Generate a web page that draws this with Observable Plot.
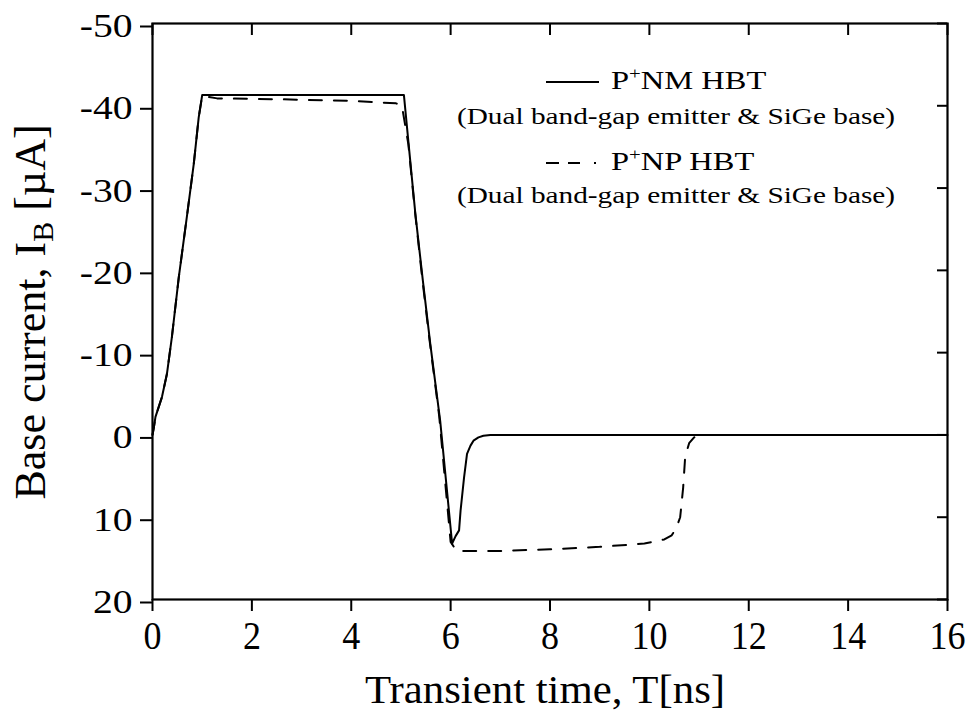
<!DOCTYPE html>
<html><head><meta charset="utf-8">
<script src="https://cdn.jsdelivr.net/npm/d3@7"></script>
<script src="https://cdn.jsdelivr.net/npm/@observablehq/plot@0.6"></script>
<style>body{margin:0;background:#fff;} #chart svg{display:block;}</style>
</head><body><div id="chart"></div>
<script>
// ---- data ----
const nmTime    = [0, 0.03, 0.06, 0.19, 0.29, 0.39, 0.53, 0.70, 0.83, 0.93, 1.0, 5.06, 5.16, 5.29, 5.44, 5.59, 5.79, 6.03, 6.1, 6.17, 6.2, 6.27, 6.33, 6.4, 6.46, 6.56, 6.66, 6.8, 16];
const nmCurrent = [0, -1.0, -2.2, -4.6, -7.4, -11.9, -19.2, -26.9, -32.9, -38.6, -41.3, -41.3, -35.0, -26.9, -18.8, -11.1, -1.7, 13.2, 12.3, 11.6, 9.2, 5.2, 2.3, 1.3, 0.7, 0.3, 0.1, 0, 0];
const npTime    = [0, 0.03, 0.06, 0.19, 0.29, 0.39, 0.53, 0.70, 0.83, 0.93, 1.0, 1.3, 2.5, 4.0, 4.9, 5.02, 5.15, 5.28, 5.42, 5.57, 5.77, 6.0, 6.12, 7.0, 8.0, 9.0, 9.9, 10.3, 10.45, 10.55, 10.62, 10.68, 10.72, 10.8, 10.9, 11.0, 11.1, 16];
const npCurrent = [0, -1.0, -2.2, -4.6, -7.4, -11.9, -19.2, -26.9, -32.9, -38.6, -41.2, -40.9, -40.8, -40.6, -40.3, -40.0, -35.3, -27.3, -19.5, -11.8, -2.3, 13.0, 14.1, 14.1, 13.9, 13.6, 13.2, 12.7, 12.2, 11.2, 10.0, 6.4, 2.7, 1.0, 0.3, 0.1, 0, 0];
const xTicks = [0, 2, 4, 6, 8, 10, 12, 14, 16];
const yTicks = [-50, -40, -30, -20, -10, 0, 10, 20];
const seriesNames = [["P", "+", "NM HBT"], ["P", "+", "NP HBT"]];
const seriesNote = "(Dual band-gap emitter & SiGe base)";
const xTitle = "Transient time, T[ns]";
const yTitle = ["Base current, I", "B", " [\u00B5A]"];

const FONT = "'Liberation Serif', 'Times New Roman', serif";
const nm = nmTime.map((t, i) => ({t, I: nmCurrent[i]}));
const np = npTime.map((t, i) => ({t, I: npCurrent[i]}));

const W = 975, H = 720, mL = 152, mR = 28, mT = 23, mB = 121;
const fw = W - mL - mR, fh = H - mT - mB;

const plot = Plot.plot({
  width: W, height: H,
  marginLeft: mL, marginRight: mR, marginTop: mT, marginBottom: mB,
  style: {fontFamily: FONT, background: "white", color: "black", overflow: "visible"},
  x: {domain: [0, 16]},
  y: {domain: [20, -50]},
  marks: [
    Plot.axisX(xTicks, {anchor: "bottom", tickSize: 12, tickPadding: 9, strokeWidth: 2, fontSize: 40, label: null, tickFormat: d => String(d)}),
    Plot.axisY(yTicks, {anchor: "left", tickSize: 12, tickPadding: 8, strokeWidth: 2, fontSize: 33, label: null, tickFormat: d => String(d), dy: 3}),
    Plot.ruleX(xTicks, {x: d => d, insetBottom: fh - 12, stroke: "black", strokeWidth: 2}),
    Plot.ruleY(yTicks, {y: d => d, insetLeft: fw - 10, stroke: "black", strokeWidth: 2}),
    Plot.line(np, {x: "t", y: "I", stroke: "black", strokeWidth: 2, strokeDasharray: "13,12"}),
    Plot.line(nm, {x: "t", y: "I", stroke: "black", strokeWidth: 2}),
    Plot.frame({stroke: "black", strokeWidth: 2.2})
  ]
});
document.getElementById("chart").appendChild(plot);

const svg = d3.select(plot);
function stretch(sel, f) {
  sel.each(function() {
    const w = this.getComputedTextLength();
    this.setAttribute("textLength", (w * f).toFixed(1));
    this.setAttribute("lengthAdjust", "spacingAndGlyphs");
  });
}
stretch(svg.selectAll("g[aria-label='y-axis tick label'] text"), 1.2);
stretch(svg.selectAll("g[aria-label='x-axis tick label'] text"), 0.9);

// legend (text widened horizontally like the reference)
const lg = svg.append("g").attr("font-family", FONT).attr("fill", "black").attr("font-size", 24);
const rows = [
  {lineY: 82, textY: 89, noteY: 124, dash: null},
  {lineY: 163, textY: 170, noteY: 203, dash: "13,9,12,14,2"}
];
rows.forEach((r, i) => {
  lg.append("line").attr("x1", 546).attr("x2", 599).attr("y1", r.lineY).attr("y2", r.lineY)
    .attr("stroke", "black").attr("stroke-width", 2).attr("stroke-dasharray", r.dash);
  const t = lg.append("g").attr("transform", `translate(611,${r.textY}) scale(1.3,1)`)
    .append("text").attr("text-anchor", "start").attr("font-size", 25);
  t.append("tspan").text(seriesNames[i][0]);
  t.append("tspan").attr("font-size", 16).attr("dy", -10).text(seriesNames[i][1]);
  t.append("tspan").attr("dy", 10).text(seriesNames[i][2]);
  lg.append("g").attr("transform", `translate(676,${r.noteY}) scale(1.22,1)`)
    .append("text").attr("text-anchor", "middle").text(seriesNote);
});

// axis titles
svg.append("g").attr("transform", "translate(545,703) scale(1.07,1)")
  .append("text").attr("font-family", FONT).attr("font-size", 40).attr("text-anchor", "middle").text(xTitle);
const yt = svg.append("text").attr("font-family", FONT).attr("font-size", 44).attr("text-anchor", "middle")
  .attr("transform", "translate(45,312) rotate(-90)");
yt.append("tspan").text(yTitle[0]);
yt.append("tspan").attr("font-size", 30).attr("dy", 8).text(yTitle[1]);
yt.append("tspan").attr("dy", -8).text(yTitle[2]);
</script>
</body></html>
